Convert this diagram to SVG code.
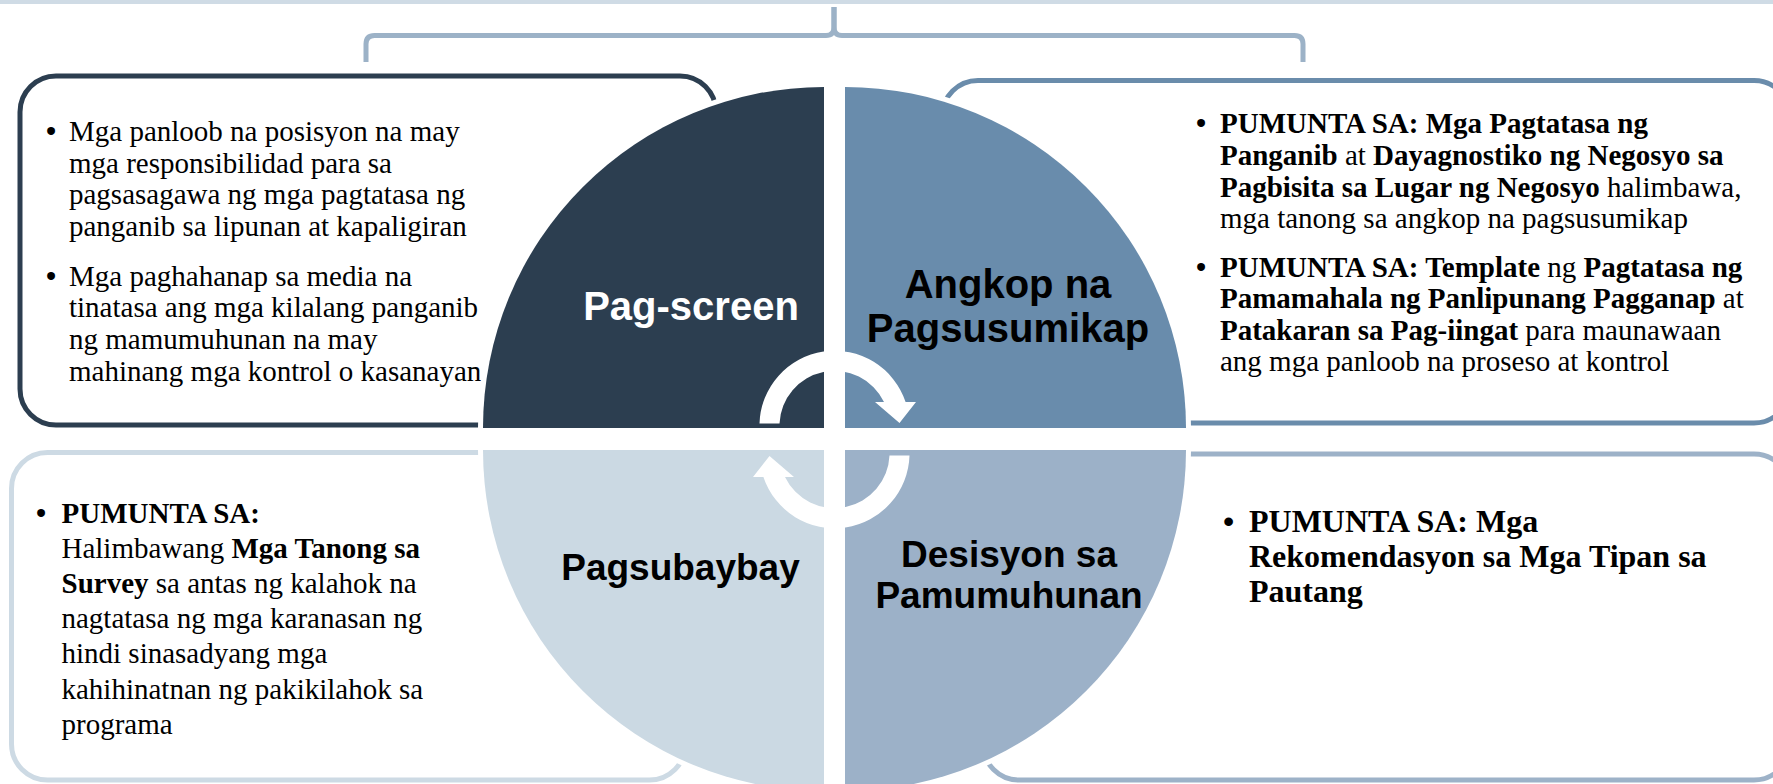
<svg xmlns="http://www.w3.org/2000/svg" width="1773" height="784" viewBox="0 0 1773 784">
<style>
.body{font-family:"Liberation Serif","Times New Roman",serif;font-size:29px;fill:#000}
.b{font-weight:bold}
.bul{font-family:"Liberation Sans",Arial,sans-serif;font-size:29px;fill:#000}
.lbl{font-family:"Liberation Sans",Arial,sans-serif;font-weight:bold;text-anchor:middle}
.box{fill:#fff;stroke-width:5}
.quad{stroke:#fff;stroke-width:10;paint-order:stroke}
.arrow{fill:#fff}
.brace{fill:none;stroke:#9cb2c7;stroke-width:5;stroke-linejoin:round;stroke-linecap:butt}
</style>
<rect x="0" y="0" width="1773" height="784" fill="#fff"/>
<rect x="0" y="0" width="1773" height="4" fill="#cfdbe5"/>

<g id="brace">
<path class="brace" d="M366,62 V44 Q366,35.5 374.5,35.5 H826 Q834,35.5 834,27 V7"/>
<path class="brace" d="M834,7 V27 Q834,35.5 842,35.5 H1294.5 Q1303,35.5 1303,44 V62"/>
</g>

<g id="node-pagscreen">
<rect class="box" x="20" y="76" width="696" height="349" rx="36" stroke="#2c3e50"/>
<text class="bul" x="46" y="141">•</text>
<text class="body" x="69" y="141">Mga panloob na posisyon na may</text>
<text class="body" x="69" y="172.7">mga responsibilidad para sa</text>
<text class="body" x="69" y="204.4">pagsasagawa ng mga pagtatasa ng</text>
<text class="body" x="69" y="236.1">panganib sa lipunan at kapaligiran</text>
<text class="bul" x="46" y="285.5">•</text>
<text class="body" x="69" y="285.5">Mga paghahanap sa media na</text>
<text class="body" x="69" y="317.2">tinatasa ang mga kilalang panganib</text>
<text class="body" x="69" y="348.9">ng mamumuhunan na may</text>
<text class="body" x="69" y="380.6">mahinang mga kontrol o kasanayan</text>
<path class="quad" fill="#2c3e50" d="M824,428 H483 A341,341 0 0 1 824,87 Z"/>
<text class="lbl" x="691" y="320" font-size="40" fill="#fff">Pag-screen</text>
</g>

<g id="node-angkop">
<rect class="box" x="942" y="80.5" width="848" height="342.5" rx="36" stroke="#6a8cab"/>
<text class="bul" x="1196" y="133">•</text>
<text class="body" x="1220" y="133"><tspan class="b">PUMUNTA SA: Mga Pagtatasa ng</tspan></text>
<text class="body" x="1220" y="165"><tspan class="b">Panganib</tspan> at <tspan class="b">Dayagnostiko ng Negosyo sa</tspan></text>
<text class="body" x="1220" y="196.7"><tspan class="b">Pagbisita sa Lugar ng Negosyo</tspan> halimbawa,</text>
<text class="body" x="1220" y="228.3">mga tanong sa angkop na pagsusumikap</text>
<text class="bul" x="1196" y="276.7">•</text>
<text class="body" x="1220" y="276.7"><tspan class="b">PUMUNTA SA: Template</tspan> ng <tspan class="b">Pagtatasa ng</tspan></text>
<text class="body" x="1220" y="308.3"><tspan class="b">Pamamahala ng Panlipunang Pagganap</tspan> at</text>
<text class="body" x="1220" y="340"><tspan class="b">Patakaran sa Pag-iingat</tspan> para maunawaan</text>
<text class="body" x="1220" y="371">ang mga panloob na proseso at kontrol</text>
<path class="quad" fill="#698cac" d="M845,428 V87 A341,341 0 0 1 1186,428 Z"/>
<text class="lbl" font-size="40" fill="#000"><tspan x="1008" y="298">Angkop na</tspan><tspan x="1008" y="341.5">Pagsusumikap</tspan></text>
</g>

<g id="node-pagsubaybay">
<rect class="box" x="11.5" y="452.5" width="674" height="327.5" rx="36" stroke="#cddae4"/>
<text class="bul" x="36" y="522.5">•</text>
<text class="body" x="61.5" y="522.5"><tspan class="b">PUMUNTA SA:</tspan></text>
<text class="body" x="61.5" y="557.7">Halimbawang <tspan class="b">Mga Tanong sa</tspan></text>
<text class="body" x="61.5" y="592.9"><tspan class="b">Survey</tspan> sa antas ng kalahok na</text>
<text class="body" x="61.5" y="628.1">nagtatasa ng mga karanasan ng</text>
<text class="body" x="61.5" y="663.3">hindi sinasadyang mga</text>
<text class="body" x="61.5" y="698.5">kahihinatnan ng pakikilahok sa</text>
<text class="body" x="61.5" y="733.7">programa</text>
<path class="quad" fill="#cbd9e3" d="M824,450 V791 A341,341 0 0 1 483,450 Z"/>
<text class="lbl" x="680.5" y="580" font-size="37" fill="#000">Pagsubaybay</text>
</g>

<g id="node-desisyon">
<rect class="box" x="983" y="454" width="807" height="326" rx="36" stroke="#9db2c8"/>
<text class="bul" x="1223" y="532" style="font-size:32px">•</text>
<text class="body b" x="1249" y="532" style="font-size:32px">PUMUNTA SA: Mga</text>
<text class="body b" x="1249" y="567" style="font-size:32px">Rekomendasyon sa Mga Tipan sa</text>
<text class="body b" x="1249" y="602" style="font-size:32px">Pautang</text>
<path class="quad" fill="#9cb1c8" d="M845,450 H1186 A341,341 0 0 1 845,791 Z"/>
<text class="lbl" font-size="37" fill="#000"><tspan x="1009" y="567">Desisyon sa</tspan><tspan x="1009" y="608">Pamumuhunan</tspan></text>
</g>

<g id="connectors">
<path id="arrow-top" class="arrow" d="M759.5,423.5 A75,75 0 0 1 905.6,402 L916,402 L899.5,423 L875,402 L884,402 A55,55 0 0 0 779.5,423.5 Z"/>
<path id="arrow-bottom" class="arrow" d="M759.5,423.5 A75,75 0 0 1 905.6,402 L916,402 L899.5,423 L875,402 L884,402 A55,55 0 0 0 779.5,423.5 Z" transform="rotate(180 834.5 439.5)"/>
</g>
</svg>
